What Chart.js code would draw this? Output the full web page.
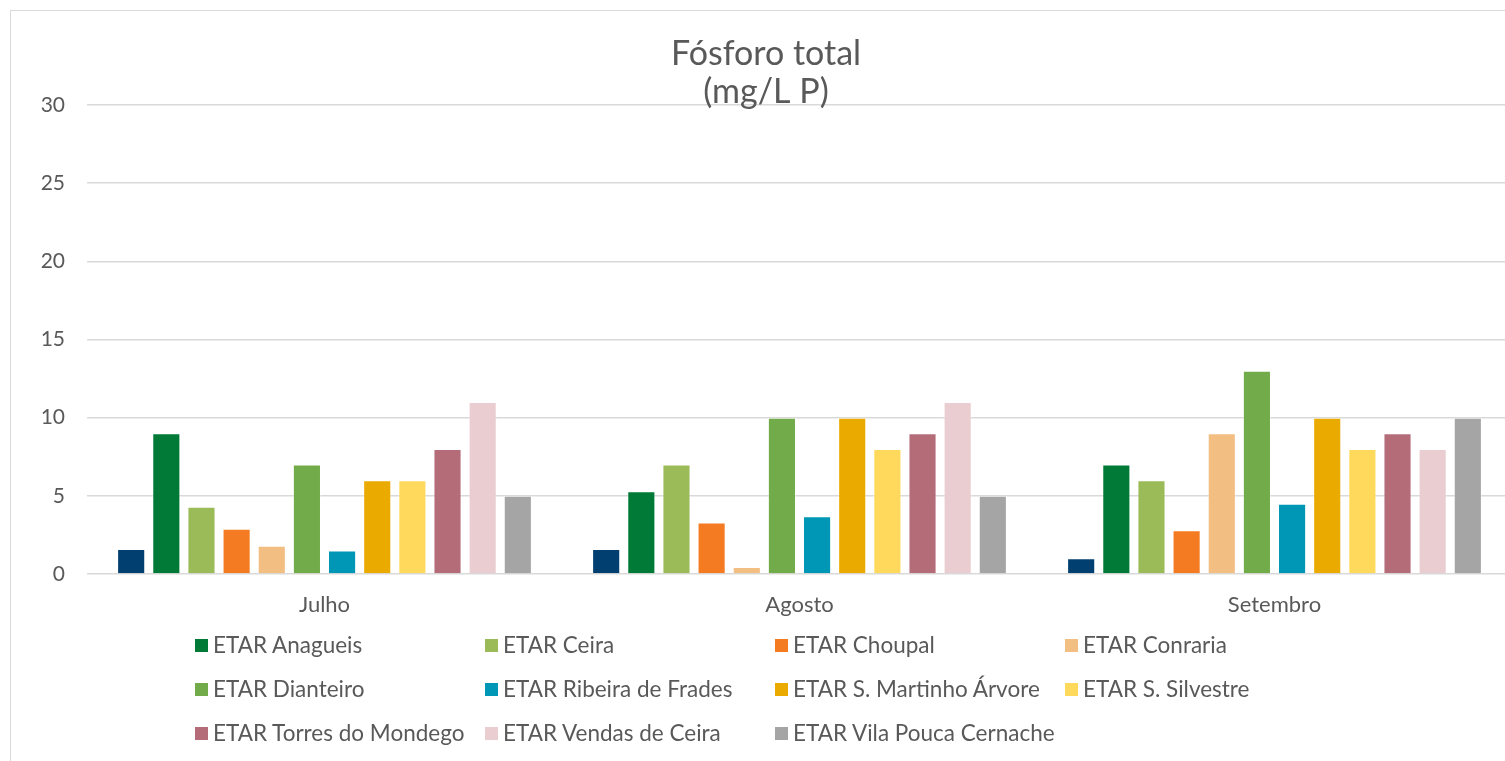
<!DOCTYPE html>
<html>
<head>
<meta charset="utf-8">
<script src="https://cdn.jsdelivr.net/npm/chart.js@4.4.1/dist/chart.umd.min.js"></script>
<style>
  html, body { margin: 0; padding: 0; background: #fff; overflow: hidden; width: 1505px; height: 761px; }
  #frame { position: absolute; left: 10px; top: 10px; width: 1530px; height: 770px; border: 1px solid #d9d9d9; box-sizing: border-box; }
  #c { position: absolute; left: 0; top: 0; }
  #legend { position: absolute; left: 0; top: 0; font-family: Lato, "Open Sans", sans-serif; font-size: 22.5px; color: #595959; }
  .item { position: absolute; height: 30px; line-height: 30px; white-space: nowrap; }
  .box { position: absolute; left: 0; top: 9px; width: 13px; height: 13px; }
  .lbl { position: absolute; left: 18px; top: 0; }
</style>
</head>
<body>
<div id="frame"></div>
<canvas id="c" width="1522" height="761"></canvas>
<div id="legend"></div>
<script>
const categories = ['Julho', 'Agosto', 'Setembro'];
const titleLines = ['Fósforo total', '(mg/L P)'];
const yTicks = [0, 5, 10, 15, 20, 25, 30];

const seriesNames = [
  '',
  'ETAR Anagueis',
  'ETAR Ceira',
  'ETAR Choupal',
  'ETAR Conraria',
  'ETAR Dianteiro',
  'ETAR Ribeira de Frades',
  'ETAR S. Martinho Árvore',
  'ETAR S. Silvestre',
  'ETAR Torres do Mondego',
  'ETAR Vendas de Ceira',
  'ETAR Vila Pouca Cernache'
];
const seriesColors = [
  '#003F6F', '#007A36', '#9BBB59', '#F47B22', '#F3BE82', '#72AC4A',
  '#0096B5', '#EBAA00', '#FED95B', '#B56C79', '#EACDD1', '#A5A5A5'
];

const s00 = [1.6, 1.6, 1.0];
const anagueis = [9, 5.3, 7];
const ceira = [4.3, 7, 6];
const choupal = [2.9, 3.3, 2.8];
const conraria = [1.8, 0.45, 9];
const dianteiro = [7, 10, 13];
const ribeira = [1.5, 3.7, 4.5];
const martinho = [6, 10, 10];
const silvestre = [6, 8, 8];
const torres = [8, 9, 9];
const vendas = [11, 11, 8];
const vilaPouca = [5, 5, 10];

const seriesValues = [s00, anagueis, ceira, choupal, conraria, dianteiro,
  ribeira, martinho, silvestre, torres, vendas, vilaPouca];

const FONT = 'Lato, "Open Sans", sans-serif';
const TEXT = '#595959';

const titlePlugin = {
  id: 'overlayTitle',
  afterDraw(chart) {
    const ctx = chart.ctx;
    ctx.save();
    ctx.fillStyle = TEXT;
    ctx.font = '34px ' + FONT;
    ctx.textAlign = 'center';
    ctx.textBaseline = 'alphabetic';
    const cx = 766;
    ctx.fillText(titleLines[0], cx, 65);
    ctx.fillText(titleLines[1], cx, 103);
    ctx.restore();
  }
};

new Chart(document.getElementById('c'), {
  type: 'bar',
  data: {
    labels: categories,
    datasets: seriesValues.map((vals, i) => ({
      label: seriesNames[i],
      data: vals,
      backgroundColor: seriesColors[i],
      borderColor: 'rgba(255,255,255,0.35)',
      borderWidth: 1,
      categoryPercentage: 0.888,
      barPercentage: 0.8
    }))
  },
  options: {
    responsive: false,
    animation: false,
    layout: { padding: { left: 20, right: 10, top: 105, bottom: 137 } },
    plugins: {
      legend: { display: false },
      title: { display: false },
      tooltip: { enabled: false }
    },
    scales: {
      x: {
        grid: { display: false, drawTicks: false },
        border: { display: false },
        ticks: { color: TEXT, font: { family: FONT, size: 22 }, padding: 18 },
        afterFit(s) { s.height = 50; }
      },
      y: {
        min: 0, max: 30,
        afterBuildTicks(s) { s.ticks = yTicks.map(v => ({ value: v })); },
        grid: { color: '#d9d9d9', lineWidth: 1.5, drawTicks: false },
        border: { display: false },
        ticks: { color: TEXT, font: { family: FONT, size: 21 }, padding: 22 },
        afterFit(s) { s.width = 67; }
      }
    }
  },
  plugins: [titlePlugin]
});

// Legend (4 columns, skipping the unnamed series)
const legend = document.getElementById('legend');
let k = 0;
seriesNames.forEach((name, i) => {
  if (!name) return;
  const col = k % 4, row = Math.floor(k / 4);
  const it = document.createElement('div');
  it.className = 'item';
  it.style.left = (195 + 290 * col) + 'px';
  it.style.top = (630 + 44 * row) + 'px';
  const b = document.createElement('span');
  b.className = 'box';
  b.style.background = seriesColors[i];
  const t = document.createElement('span');
  t.className = 'lbl';
  t.textContent = name;
  it.appendChild(b); it.appendChild(t);
  legend.appendChild(it);
  k++;
});
</script>
</body>
</html>
